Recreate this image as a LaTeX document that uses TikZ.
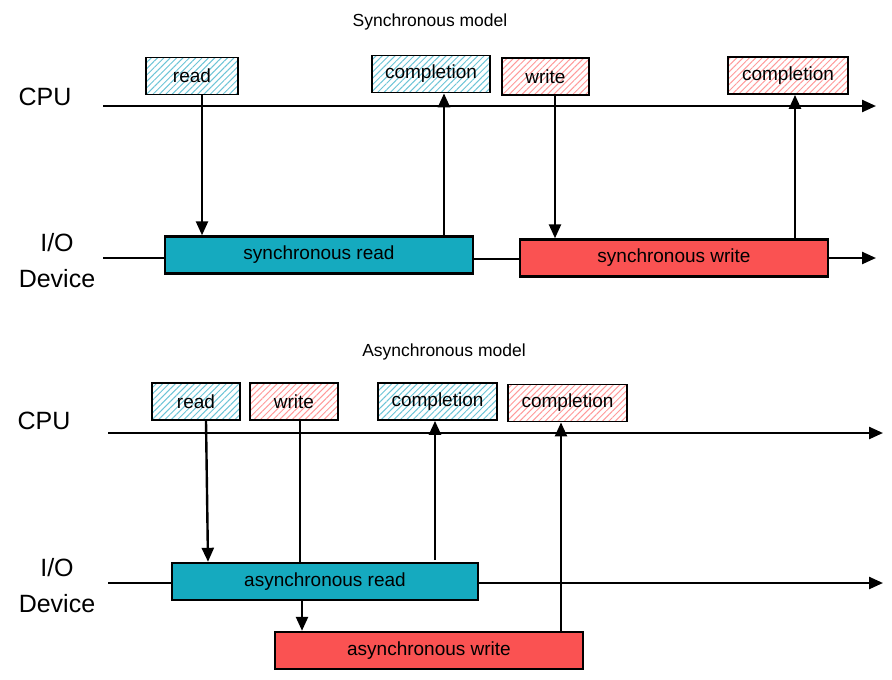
\documentclass[tikz,border=0pt]{standalone}
\usepackage{fontspec}
\setmainfont{Liberation Sans}
\usetikzlibrary{patterns.meta,arrows.meta,calc}
\definecolor{hblue}{HTML}{6CC4D6}
\definecolor{hred}{HTML}{FF9A9A}
\definecolor{sblue}{HTML}{15AABF}
\definecolor{sred}{HTML}{FA5252}
\begin{document}
\begin{tikzpicture}[x=1pt,y=-1pt,
  tag/.style={draw=black,line width=1.8pt,minimum height=37pt,inner sep=0pt,font=\fontsize{19}{21}\selectfont},
  tagb/.style={tag,pattern={Lines[angle=45,distance=4.5pt,line width=1pt]},pattern color=hblue},
  tagr/.style={tag,pattern={Lines[angle=45,distance=4.5pt,line width=1pt]},pattern color=hred},
  bar/.style={draw=black,line width=2.4pt,minimum height=37pt,inner sep=0pt,font=\fontsize{19}{21}\selectfont},
  barb/.style={bar,fill=sblue},
  barr/.style={bar,fill=sred},
  lbl/.style={font=\fontsize{25}{36}\selectfont,align=center},
  ttl/.style={font=\fontsize{17.5}{20}\selectfont},
  ln/.style={line width=2.4pt},
  arr/.style={line width=2.4pt,-{Triangle[length=14pt,width=12pt]}}
]
\useasboundingbox (0,0) rectangle (892,680);

% ---------- synchronous ----------
\node[ttl] (t1) at (430,22) {Synchronous model};
\node[lbl] (cpu1) at (45,97) {CPU};
\node[lbl] (io1) at (57,261) {I/O\\Device};
\coordinate (c1s) at (103,106);
\coordinate (c1e) at (876,106);
\draw[arr] (c1s) -- (c1e);

\node[tagb,minimum width=92pt] (rd1) at (192,76) {read};
\node[tagb,minimum width=118pt] (cp1) at (431,74) {completion};
\node[tagr,minimum width=87pt] (wr1) at (545.5,76.5) {write};
\node[tagr,minimum width=120pt] (cp2) at (788,75.5) {completion};

\node[barb,minimum width=308pt] (srd) at (319,255) {synchronous read};
\node[barr,minimum width=308pt] (swr) at (674,258) {synchronous write};
\coordinate (i1s) at (103,258);
\coordinate (i1e) at (876,258);
\draw[ln] (i1s) -- (srd.west |- i1s);
\draw[ln] (srd.east |- 0,259) -- (swr.west |- 0,259);
\draw[arr] (swr.east |- i1e) -- (i1e);

\draw[arr] ([xshift=10pt]rd1.south) -- ([xshift=10pt]rd1.south |- srd.north);
\draw[arr] (444,236) -- (444,0 |- cp1.south);
\draw[arr] ([xshift=9.5pt]wr1.south) -- ([xshift=9.5pt]wr1.south |- swr.north);
\draw[arr] ([xshift=7pt]cp2.south |- swr.north) -- ([xshift=7pt]cp2.south);

% ---------- asynchronous ----------
\node[ttl] (t2) at (444,352) {Asynchronous model};
\node[lbl] (cpu2) at (44,421) {CPU};
\node[lbl] (io2) at (57,586) {I/O\\Device};
\coordinate (c2s) at (108,433);
\coordinate (c2e) at (883,433);
\draw[arr] (c2s) -- (c2e);

\node[tagb,minimum width=88pt] (rd2) at (196,401.5) {read};
\node[tagr,minimum width=88pt] (wr2) at (294,401.5) {write};
\node[tagb,minimum width=119pt] (cp3) at (437.5,401.5) {completion};
\node[tagr,minimum width=119pt] (cp4) at (567.5,403) {completion};

\node[barb,minimum width=306pt] (ard) at (325,581.5) {asynchronous read};
\node[barr,minimum width=308pt] (awr) at (429,650.5) {asynchronous write};
\coordinate (i2s) at (108,583);
\coordinate (i2e) at (883,583);
\draw[ln] (i2s) -- (ard.west |- i2s);
\draw[arr] (ard.east |- i2e) -- (i2e);

\draw[arr] ([xshift=10pt]rd2.south) -- ([xshift=12pt]rd2.south |- ard.north);
\draw[ln] ([xshift=6pt]wr2.south) -- ([xshift=6pt]wr2.south |- ard.north);
\draw[arr] ([xshift=8pt]wr2.south |- ard.south) -- ([xshift=8pt]wr2.south |- awr.north);
\draw[arr] ([xshift=-2.5pt]cp3.south |- 0,560) -- ([xshift=-2.5pt]cp3.south);
\draw[arr] ([xshift=-6.5pt]cp4.south |- awr.north) -- ([xshift=-6.5pt]cp4.south);
\end{tikzpicture}
\end{document}
